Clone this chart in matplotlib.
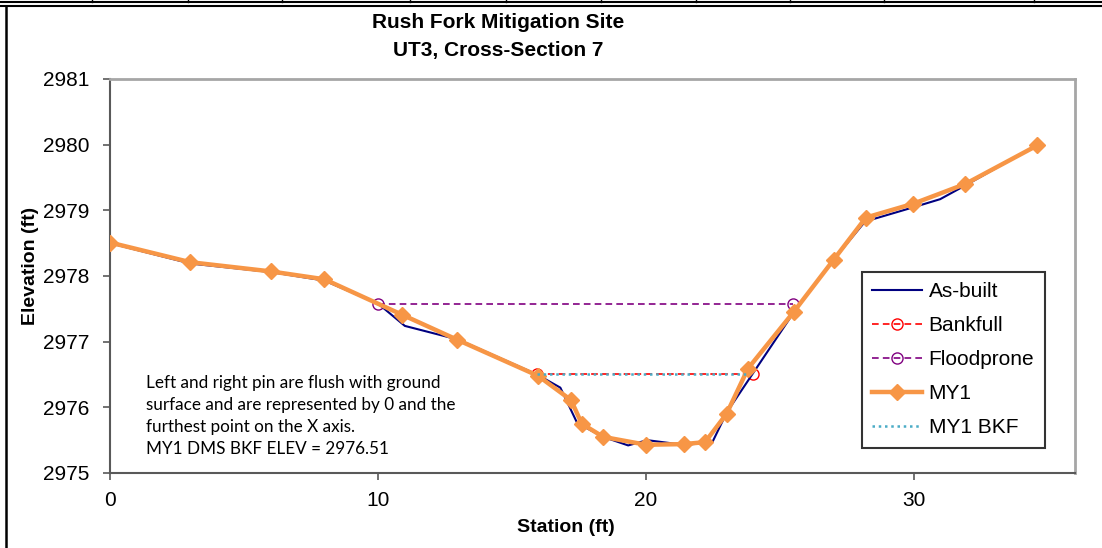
import matplotlib
matplotlib.use("Agg")
import matplotlib.pyplot as plt
from matplotlib.lines import Line2D

# ---- data ----
asbuilt_x = [0, 3, 6, 8, 10, 11, 13, 15.93, 16.8, 17.43, 18.4, 19.33, 20.04, 21.38, 22.46, 23.02, 25.5, 27.0, 28.17, 30.0, 30.97, 32.0, 34.6]
asbuilt_y = [2978.50, 2978.19, 2978.06, 2977.93, 2977.58, 2977.24, 2977.03, 2976.50, 2976.30, 2975.76, 2975.55, 2975.42, 2975.50, 2975.43, 2975.46, 2975.93, 2977.44, 2978.25, 2978.83, 2979.05, 2979.17, 2979.40, 2980.00]

my1_x = [0, 3, 6, 8, 10.9, 12.95, 15.97, 17.2, 17.6, 18.4, 20.0, 21.4, 22.2, 23.0, 23.8, 25.5, 27.0, 28.2, 29.96, 31.9, 34.6]
my1_y = [2978.51, 2978.21, 2978.07, 2977.95, 2977.41, 2977.03, 2976.48, 2976.11, 2975.75, 2975.55, 2975.43, 2975.44, 2975.47, 2975.90, 2976.59, 2977.45, 2978.25, 2978.89, 2979.10, 2979.40, 2979.99]

bankfull_x = [15.93, 24.0]
bankfull_y = [2976.51, 2976.51]

floodprone_x = [10.0, 25.48]
floodprone_y = [2977.58, 2977.58]

my1bkf_x = [15.93, 23.8]
my1bkf_y = [2976.51, 2976.51]

note = ("Left and right pin are flush with ground\n"
        "surface and are represented by 0 and the\n"
        "furthest point on the X axis.\n"
        "MY1 DMS BKF ELEV = 2976.51")

plt.rcParams['font.family'] = ['Liberation Sans', 'DejaVu Sans']

fig = plt.figure(figsize=(11.02, 5.48), dpi=100)
ax = fig.add_axes([110/1102, 75/548, 965/1102, 394/548])

ax.plot(asbuilt_x, asbuilt_y, color='#000080', lw=1.5, label='As-built', zorder=3)
ax.plot(bankfull_x, bankfull_y, color='#FF0000', lw=1.2, ls=(0, (4, 2.5)),
        marker='o', mfc='none', mec='#FF0000', ms=8, label='Bankfull', zorder=2)
ax.plot(floodprone_x, floodprone_y, color='#800080', lw=1.2, ls=(0, (4, 2.5)),
        marker='o', mfc='none', mec='#800080', ms=8, label='Floodprone', zorder=2)
ax.plot(my1_x, my1_y, color='#F79646', lw=3.2, marker='D', ms=8,
        mec='#F79646', label='MY1', zorder=4)
ax.plot(my1bkf_x, my1bkf_y, color='#4BACC6', lw=1.8, ls=(0, (1, 1.5)),
        label='MY1 BKF', zorder=5)

ax.set_xlim(0, 36)
ax.set_ylim(2975, 2981)
ax.set_xticks([0, 10, 20, 30])
ax.set_yticks(range(2975, 2982))
ax.tick_params(axis='both', direction='out', length=5, width=1.2,
               colors='#595959', labelcolor='black', labelsize=15)
ax.tick_params(axis='x', pad=8)
ax.tick_params(axis='y', pad=10)
for s in ['left', 'bottom']:
    ax.spines[s].set_color('#595959')
    ax.spines[s].set_linewidth(1.5)
for s in ['top', 'right']:
    ax.spines[s].set_color('#A6A6A6')
    ax.spines[s].set_linewidth(2)

ax.set_xlabel('Station (ft)', fontsize=14, fontweight='bold')
ax.set_ylabel('Elevation (ft)', fontsize=14, fontweight='bold')
ax.xaxis.set_label_coords((566 - 110) / 965, -(519 - 473) / 394)
ax.yaxis.set_label_coords(-(110 - 39) / 965, (473 - 266) / 394)

ax.text(1.35, 2976.49, note, fontsize=12.3, va='top', ha='left',
        family=['Lato', 'DejaVu Sans'], linespacing=1.47)

fig.text(498/1102, 1 - 22/548, 'Rush Fork Mitigation Site', ha='center', va='center',
         fontsize=15, fontweight='bold')
fig.text(498/1102, 1 - 50/548, 'UT3, Cross-Section 7', ha='center', va='center',
         fontsize=15, fontweight='bold')

leg = ax.legend(loc='upper left', bbox_to_anchor=(862/1102, 1 - 272/548),
                bbox_transform=fig.transFigure, fontsize=15, frameon=True,
                fancybox=False, edgecolor='black', handlelength=2.4,
                labelspacing=0.72, borderpad=0.5, handletextpad=0.3,
                borderaxespad=0)
leg.get_frame().set_linewidth(1.5)

# outer frame pieces (table borders around the chart)
fig.add_artist(Line2D([0, 1], [1 - 2/548, 1 - 2/548], transform=fig.transFigure, color='black', lw=1.5))
fig.add_artist(Line2D([0, 1], [1 - 6/548, 1 - 6/548], transform=fig.transFigure, color='black', lw=1.5))
fig.add_artist(Line2D([6/1102, 6/1102], [0, 1 - 6/548], transform=fig.transFigure, color='black', lw=1.8))
for px in [92, 188, 282, 410, 506, 601, 696, 790, 884, 1034]:
    fig.add_artist(Line2D([px/1102, px/1102], [1 - 2/548, 1], transform=fig.transFigure, color='black', lw=1))

fig.savefig('out.png', dpi=100)
